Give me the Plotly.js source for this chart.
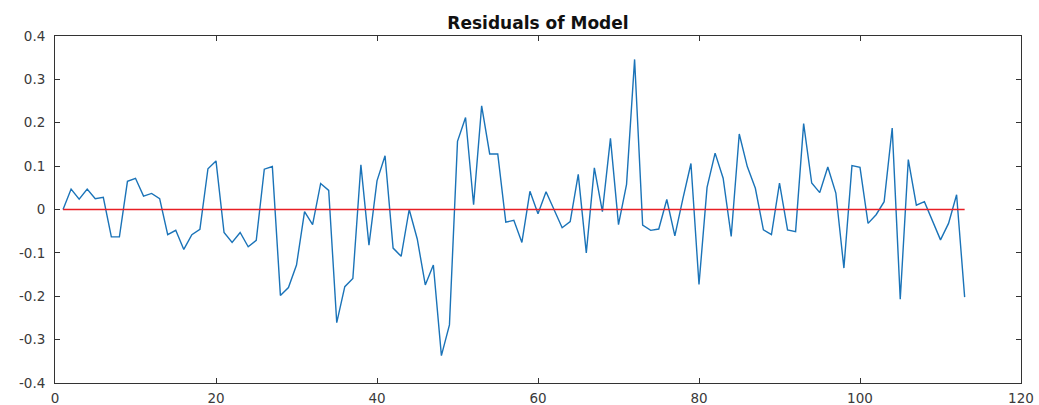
<!DOCTYPE html>
<html>
<head>
<meta charset="utf-8">
<script src="https://cdn.plot.ly/plotly-3.0.1.min.js"></script>
<style>html,body{margin:0;padding:0;background:#fff;}#chart{width:1039px;height:405px;}</style>
</head>
<body>
<div id="chart"></div>
<script>
const chartTitle = "Residuals of Model";
const residuals = [
  0.000, 0.047, 0.024, 0.047, 0.025, 0.028, -0.063, -0.063, 0.065, 0.072,
  0.031, 0.037, 0.025, -0.058, -0.048, -0.092, -0.058, -0.046, 0.094, 0.112,
  -0.053, -0.076, -0.053, -0.086, -0.071, 0.093, 0.099, -0.198, -0.180, -0.128,
  -0.005, -0.035, 0.060, 0.044, -0.261, -0.178, -0.159, 0.103, -0.082, 0.066,
  0.124, -0.089, -0.108, 0.000, -0.068, -0.174, -0.128, -0.337, -0.266, 0.157,
  0.212, 0.011, 0.239, 0.128, 0.128, -0.029, -0.025, -0.076, 0.042, -0.010,
  0.041, 0.000, -0.042, -0.028, 0.081, -0.100, 0.096, -0.005, 0.164, -0.035,
  0.058, 0.346, -0.036, -0.048, -0.045, 0.023, -0.061, 0.025, 0.106, -0.173,
  0.051, 0.130, 0.072, -0.062, 0.174, 0.099, 0.049, -0.047, -0.058, 0.061,
  -0.047, -0.051, 0.198, 0.061, 0.039, 0.098, 0.038, -0.135, 0.101, 0.097,
  -0.032, -0.012, 0.018, 0.188, -0.207, 0.115, 0.010, 0.018, -0.024, -0.070,
  -0.032, 0.034, -0.202
];
const observation = residuals.map((_, i) => i + 1);
const zeroLineX = [1, residuals.length];
const zeroLineY = [0, 0];
const xTickVals = [0, 20, 40, 60, 80, 100, 120];
const xTickText = ["0", "20", "40", "60", "80", "100", "120"];
const yTickVals = [-0.4, -0.3, -0.2, -0.1, 0, 0.1, 0.2, 0.3, 0.4];
const yTickText = ["-0.4", "-0.3", "-0.2", "-0.1", "0", "0.1", "0.2", "0.3", "0.4"];

const traces = [
  {x: observation, y: residuals, type: "scatter", mode: "lines",
   line: {color: "#1a73b8", width: 1.4}, hoverinfo: "x+y"},
  {x: zeroLineX, y: zeroLineY, type: "scatter", mode: "lines",
   line: {color: "rgb(232,30,36)", width: 1.3}, hoverinfo: "skip"}
];
const tickFont = {family: "DejaVu Sans, Liberation Sans, sans-serif", size: 13.5, color: "#3a3a3a"};
const axisCommon = {
  showgrid: false, zeroline: false, showline: true, linecolor: "#333333", linewidth: 1,
  mirror: "ticks", ticks: "inside", ticklen: 5, tickcolor: "#333333", tickwidth: 1,
  tickfont: tickFont
};
const layout = {
  width: 1039, height: 405,
  margin: {l: 55, r: 18, t: 36, b: 22},
  paper_bgcolor: "#ffffff", plot_bgcolor: "#ffffff",
  showlegend: false,
  title: {text: "<b>" + chartTitle + "</b>", xref: "paper", x: 0.5, xanchor: "center", y: 0.944, yanchor: "middle",
          font: {family: "DejaVu Sans, Liberation Sans, sans-serif", size: 17, color: "#111"}},
  xaxis: Object.assign({}, axisCommon, {range: [0, 120], tickvals: xTickVals, ticktext: xTickText, ticklabelstandoff: 3}),
  yaxis: Object.assign({}, axisCommon, {range: [-0.4, 0.4], tickvals: yTickVals, ticktext: yTickText, ticklabelstandoff: 6})
};
Plotly.newPlot("chart", traces, layout, {displayModeBar: false, staticPlot: true});
</script>
</body>
</html>
